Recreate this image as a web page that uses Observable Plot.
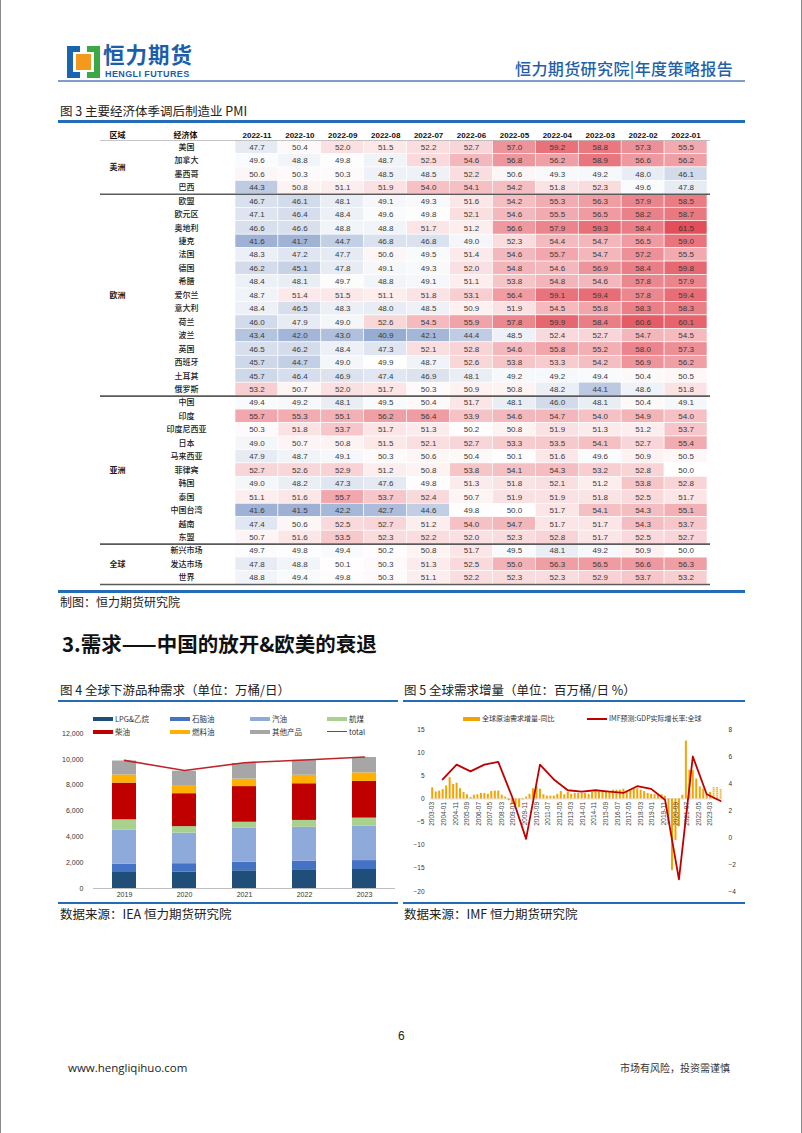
<!DOCTYPE html>
<html><head><meta charset="utf-8">
<script src="https://cdn.jsdelivr.net/npm/d3@7"></script>
<script src="https://cdn.jsdelivr.net/npm/@observablehq/plot@0.6"></script>
<style>
html,body{margin:0;padding:0;background:#fff;}
#page{position:relative;width:802px;height:1133px;overflow:hidden;font-family:"Noto Sans CJK SC","Liberation Sans",sans-serif;color:#111;}
.abs{position:absolute;line-height:1;white-space:nowrap;}
.hline{position:absolute;}
.plotbox{position:absolute;}
.plotbox svg{max-width:none !important;}
.leg{position:absolute;font-size:7.5px;line-height:1;white-space:nowrap;color:#333;}
.sw{position:absolute;}
</style></head>
<body><div id="page">
  <div class="hline" style="left:0;top:0;width:1px;height:1133px;background:#8a8a8a"></div>
  <div class="hline" style="left:801px;top:0;width:1px;height:1133px;background:#8a8a8a"></div>
  <!-- logo -->
  <svg class="abs" style="left:67px;top:45px" width="34" height="34" viewBox="0 0 34 34">
    <path d="M0 1 H13 V7 H6 V27 H13 V33 H0 Z" fill="#1c64b0"/>
    <path d="M33 1 H20 V7 H27 V27 H20 V33 H33 Z" fill="#3aa845"/>
    <rect x="9" y="9" width="15" height="16" fill="#f39a1e"/>
  </svg>
  <div class="abs" style="left:103px;top:43px;font-size:21.5px;font-weight:bold;color:#1b5ea9;letter-spacing:1px">恒力期货</div>
  <div class="abs" style="left:105px;top:69.5px;font-size:9px;font-weight:bold;color:#1b5ea9;font-family:'Liberation Sans',sans-serif;letter-spacing:0.4px">HENGLI FUTURES</div>
  <div class="abs" style="left:515px;top:60px;font-size:16px;color:#1f5fa8;font-weight:500;letter-spacing:0.4px">恒力期货研究院|年度策略报告</div>
  <div class="hline" style="left:58px;top:80px;width:687px;height:1.5px;background:#7f9dcb"></div>

  <div class="abs" style="left:60px;top:105px;font-size:12.5px;color:#222">图 3 主要经济体季调后制造业 PMI</div>
  <div class="hline" style="left:58px;top:120px;width:687px;height:2.5px;background:#236db5"></div>
  <div class="plotbox" id="table" style="left:0;top:120px;width:802px;"></div>
  <div class="hline" style="left:58px;top:590px;width:687px;height:2.5px;background:#236db5"></div>
  <div class="abs" style="left:60px;top:596px;font-size:12px;color:#222">制图：恒力期货研究院</div>

  <div class="abs" style="left:62px;top:633px;font-size:20.5px;font-weight:bold;color:#111">3.需求——中国的放开&amp;欧美的衰退</div>

  <div class="abs" style="left:60px;top:684px;font-size:12.5px;color:#222">图 4 全球下游品种需求（单位：万桶/日）</div>
  <div class="abs" style="left:404px;top:684px;font-size:12.5px;color:#222">图 5 全球需求增量（单位：百万桶/日 %）</div>
  <div class="hline" style="left:58px;top:700px;width:340px;height:2px;background:#236db5"></div>
  <div class="hline" style="left:403px;top:700px;width:342px;height:2px;background:#236db5"></div>

  <div class="plotbox" id="fig4" style="left:50px;top:705px;width:350px;"></div>
  <div id="leg4"></div>
  <div class="plotbox" id="fig5a" style="left:400px;top:705px;width:345px;"></div>
  <div class="plotbox" id="fig5b" style="left:400px;top:705px;width:345px;"></div>
  <div id="leg5"></div>

  <div class="hline" style="left:58px;top:902px;width:340px;height:2px;background:#236db5"></div>
  <div class="hline" style="left:403px;top:902px;width:342px;height:2px;background:#236db5"></div>
  <div class="abs" style="left:60px;top:908px;font-size:12.5px;color:#222">数据来源：IEA 恒力期货研究院</div>
  <div class="abs" style="left:404px;top:908px;font-size:12.5px;color:#222">数据来源：IMF 恒力期货研究院</div>

  <div class="abs" style="left:398px;top:1030px;font-size:12px;color:#222;font-family:'Liberation Sans',sans-serif">6</div>
  <div class="abs" style="left:68px;top:1062px;font-size:11.5px;color:#222;font-family:'Open Sans','Liberation Sans',sans-serif">www.hengliqihuo.com</div>
  <div class="abs" style="left:620px;top:1063px;font-size:10px;color:#333">市场有风险，投资需谨慎</div>
</div>
<script>
// ---------- Figure 3 data: manufacturing PMI ----------
const months = ["2022-11","2022-10","2022-09","2022-08","2022-07","2022-06","2022-05","2022-04","2022-03","2022-02","2022-01"];
const regionNames = ["美洲","欧洲","亚洲","全球"];

const americasNames = ["美国","加拿大","墨西哥","巴西"];
const americasPMI = [
  [47.7,50.4,52.0,51.5,52.2,52.7,57.0,59.2,58.8,57.3,55.5],
  [49.6,48.8,49.8,48.7,52.5,54.6,56.8,56.2,58.9,56.6,56.2],
  [50.6,50.3,50.3,48.5,48.5,52.2,50.6,49.3,49.2,48.0,46.1],
  [44.3,50.8,51.1,51.9,54.0,54.1,54.2,51.8,52.3,49.6,47.8]
];
const europeNames = ["欧盟","欧元区","奥地利","捷克","法国","德国","希腊","爱尔兰","意大利","荷兰","波兰","英国","西班牙","土耳其","俄罗斯"];
const europePMI = [
  [46.7,46.1,48.1,49.1,49.3,51.6,54.2,55.3,56.3,57.9,58.5],
  [47.1,46.4,48.4,49.6,49.8,52.1,54.6,55.5,56.5,58.2,58.7],
  [46.6,46.6,48.8,48.8,51.7,51.2,56.6,57.9,59.3,58.4,61.5],
  [41.6,41.7,44.7,46.8,46.8,49.0,52.3,54.4,54.7,56.5,59.0],
  [48.3,47.2,47.7,50.6,49.5,51.4,54.6,55.7,54.7,57.2,55.5],
  [46.2,45.1,47.8,49.1,49.3,52.0,54.8,54.6,56.9,58.4,59.8],
  [48.4,48.1,49.7,48.8,49.1,51.1,53.8,54.8,54.6,57.8,57.9],
  [48.7,51.4,51.5,51.1,51.8,53.1,56.4,59.1,59.4,57.8,59.4],
  [48.4,46.5,48.3,48.0,48.5,50.9,51.9,54.5,55.8,58.3,58.3],
  [46.0,47.9,49.0,52.6,54.5,55.9,57.8,59.9,58.4,60.6,60.1],
  [43.4,42.0,43.0,40.9,42.1,44.4,48.5,52.4,52.7,54.7,54.5],
  [46.5,46.2,48.4,47.3,52.1,52.8,54.6,55.8,55.2,58.0,57.3],
  [45.7,44.7,49.0,49.9,48.7,52.6,53.8,53.3,54.2,56.9,56.2],
  [45.7,46.4,46.9,47.4,46.9,48.1,49.2,49.2,49.4,50.4,50.5],
  [53.2,50.7,52.0,51.7,50.3,50.9,50.8,48.2,44.1,48.6,51.8]
];
const asiaNames = ["中国","印度","印度尼西亚","日本","马来西亚","菲律宾","韩国","泰国","中国台湾","越南","东盟"];
const asiaPMI = [
  [49.4,49.2,48.1,49.5,50.4,51.7,48.1,46.0,48.1,50.4,49.1],
  [55.7,55.3,55.1,56.2,56.4,53.9,54.6,54.7,54.0,54.9,54.0],
  [50.3,51.8,53.7,51.7,51.3,50.2,50.8,51.9,51.3,51.2,53.7],
  [49.0,50.7,50.8,51.5,52.1,52.7,53.3,53.5,54.1,52.7,55.4],
  [47.9,48.7,49.1,50.3,50.6,50.4,50.1,51.6,49.6,50.9,50.5],
  [52.7,52.6,52.9,51.2,50.8,53.8,54.1,54.3,53.2,52.8,50.0],
  [49.0,48.2,47.3,47.6,49.8,51.3,51.8,52.1,51.2,53.8,52.8],
  [51.1,51.6,55.7,53.7,52.4,50.7,51.9,51.9,51.8,52.5,51.7],
  [41.6,41.5,42.2,42.7,44.6,49.8,50.0,51.7,54.1,54.3,55.1],
  [47.4,50.6,52.5,52.7,51.2,54.0,54.7,51.7,51.7,54.3,53.7],
  [50.7,51.6,53.5,52.3,52.2,52.0,52.3,52.8,51.7,52.5,52.7]
];
const globalNames = ["新兴市场","发达市场","世界"];
const globalPMI = [
  [49.7,49.8,49.4,50.2,50.8,51.7,49.5,48.1,49.2,50.9,50.0],
  [47.8,48.8,50.1,50.3,51.3,52.5,55.0,56.3,56.5,56.6,56.3],
  [48.8,49.4,49.8,50.3,51.1,52.2,52.3,52.3,52.9,53.7,53.2]
];

// ---------- Figure 4 data: demand by product (万桶/日) ----------
const years4 = ["2019","2020","2021","2022","2023"];
const products = ["LPG&乙烷","石脑油","汽油","航煤","柴油","燃料油","其他产品"];
const productColors = ["#1f4e79","#4472c4","#8eaadb","#a9d18e","#c00000","#ffb000","#a6a6a6"];
const lpg      = [1240,1260,1370,1450,1470];
const naphtha  = [630,660,660,660,690];
const gasoline = [2660,2370,2630,2630,2660];
const jetFuel  = [790,500,470,530,630];
const diesel   = [2840,2550,2760,2840,2840];
const fuelOil  = [630,630,580,660,660];
const others   = [1080,1110,1210,1160,1190];
const totalDemand = [9920,9130,9740,9950,10180];

// ---------- Figure 5 data ----------
const demandYears = d3.range(2003, 2024);
const quarterMonths = [3,6,9,12];
const demandGrowth = [
  2.4,1.5,1.7,2.0,   2.8,4.6,3.1,3.4,   2.2,1.4,0.9,0.3,   0.8,0.9,1.2,1.2,
  1.0,1.6,1.7,1.7,   0.8,0.4,-0.4,-1.2, -1.5,-1.9,-0.2,0.4, 1.0,2.2,2.6,2.1,
  0.9,0.6,0.6,0.6,   1.0,1.6,0.9,1.4,   1.0,1.2,1.2,1.2,   1.2,1.0,1.4,1.5,
  1.5,1.5,1.5,1.4,   1.9,1.9,1.9,2.1,   1.7,1.9,2.2,2.2,   1.9,1.6,1.2,1.0,
  0.9,1.0,0.9,0.6,   -5.6,-15.5,-9.0,-6.0, 0.8,12.5,6.2,6.1, 4.3,2.6,2.1,1.0,
  1.4,2.6,2.5,2.1
];
const forecastCount = 3;
const gdpYears = d3.range(2003, 2024);
const gdpGrowth = [4.3,5.4,4.9,5.4,5.6,3.0,-0.1,5.4,4.3,3.5,3.4,3.5,3.4,3.3,3.8,3.6,2.8,-3.1,6.0,3.2,2.7];
const fig5TickStart = [2003, 3];   // labels every 10 months
const fig5TickCount = 25;
const leftTicks = [-20,-15,-10,-5,0,5,10,15];
const rightTicks = [-4,-2,0,2,4,6,8];

// ================= Figure 3 table =================
const groups = [
  {region: regionNames[0], names: americasNames, values: americasPMI},
  {region: regionNames[1], names: europeNames, values: europePMI},
  {region: regionNames[2], names: asiaNames, values: asiaPMI},
  {region: regionNames[3], names: globalNames, values: globalPMI}
];
const rows = [], groupInfo = [];
groups.forEach(g => {
  const start = rows.length;
  g.names.forEach((n, k) => rows.push({row: rows.length, name: n, values: g.values[k]}));
  groupInfo.push({region: g.region, start, end: rows.length - 1, mid: (start + rows.length - 1) / 2});
});
const nRows = rows.length;
const cells = rows.flatMap(r => r.values.map((v, j) => ({row: r.row, col: j, value: v})));
const allVals = cells.map(d => d.value);
const boundaries = groupInfo.slice(1).map(g => g.start - 0.5);

const table = Plot.plot({
  width: 802, height: 470,
  marginLeft: 235, marginRight: 95, marginTop: 20, marginBottom: 6,
  style: {background: "transparent", fontFamily: "Liberation Sans, Arial, sans-serif"},
  x: {type: "linear", domain: [-0.5, months.length - 0.5], axis: null},
  y: {type: "linear", domain: [-0.5, nRows - 0.5], reverse: true, axis: null},
  color: {type: "linear", domain: [d3.min(allVals), 50, d3.max(allVals)], range: ["#97acd1", "#ffffff", "#e24e59"], interpolate: "rgb"},
  marks: [
    Plot.rect(cells, {x1: d => d.col - 0.5, x2: d => d.col + 0.5, y1: d => d.row - 0.5, y2: d => d.row + 0.5,
      fill: "value", stroke: "#ffffff", strokeWidth: 0.6}),
    Plot.text(cells, {x: "col", y: "row", text: d => d.value.toFixed(1), fontSize: 8, fill: "#3a3a3a"}),
    Plot.text(months, {x: (d, i) => i, frameAnchor: "top", dy: -8, text: d => d, fontSize: 8, fontWeight: "bold", fill: "#111"}),
    Plot.text(["区域"], {frameAnchor: "top-left", dx: -118, dy: -8, textAnchor: "middle", fontSize: 8, fontWeight: "bold", fill: "#111", fontFamily: "Noto Sans CJK SC"}),
    Plot.text(["经济体"], {frameAnchor: "top-left", dx: -50, dy: -8, textAnchor: "middle", fontSize: 8, fontWeight: "bold", fill: "#111", fontFamily: "Noto Sans CJK SC"}),
    Plot.text(rows, {y: "row", frameAnchor: "left", dx: -49, textAnchor: "middle", text: "name", fontSize: 8, fontWeight: 500, fill: "#222", fontFamily: "Noto Sans CJK SC"}),
    Plot.text(groupInfo, {y: "mid", frameAnchor: "left", dx: -118, textAnchor: "middle", text: "region", fontSize: 8, fontWeight: "bold", fill: "#222", fontFamily: "Noto Sans CJK SC"}),
    Plot.ruleY([-0.5], {stroke: "#b5b5b5", strokeWidth: 0.8, insetLeft: -135, insetRight: -3}),
    Plot.ruleY(boundaries, {stroke: "#5a5a5a", strokeWidth: 1.6, insetLeft: -135, insetRight: -3}),
    Plot.ruleY([nRows - 0.5], {stroke: "#5a5a5a", strokeWidth: 1.6, insetLeft: -135, insetRight: -3})
  ]
});
document.getElementById("table").appendChild(table);

// ================= Figure 4 =================
const series4 = [lpg, naphtha, gasoline, jetFuel, diesel, fuelOil, others];
const stack4 = years4.flatMap((y, i) => products.map((p, k) => ({year: y, product: p, value: series4[k][i]})));
const total4 = years4.map((y, i) => ({year: y, value: totalDemand[i]}));
const fig4 = Plot.plot({
  width: 350, height: 195,
  marginLeft: 43, marginRight: 5, marginTop: 28, marginBottom: 12,
  style: {background: "transparent", fontSize: "7px", fontFamily: "Liberation Sans, Arial, sans-serif", color: "#333"},
  x: {domain: years4, paddingInner: 0.6, paddingOuter: 0.3, tickSize: 0, tickPadding: 4, label: null},
  y: {domain: [0, 12000], ticks: d3.range(0, 12001, 2000), tickFormat: d3.format(","), tickSize: 0, tickPadding: 10, label: null},
  color: {domain: products, range: productColors},
  marks: [
    Plot.barY(stack4, {x: "year", y: "value", fill: "product"}),
    Plot.ruleY([0], {stroke: "#bfbfbf", strokeWidth: 1}),
    Plot.line(total4, {x: "year", y: "value", stroke: "#c0242b", strokeWidth: 1.6})
  ]
});
document.getElementById("fig4").appendChild(fig4);

// legend fig4
const leg4 = document.getElementById("leg4");
const legItems4 = products.map((p, k) => ({label: p, color: productColors[k], kind: "bar"}))
  .concat([{label: "total", color: "#c0242b", kind: "line"}]);
const legCols4 = [93, 170, 250, 327];
legItems4.forEach((it, k) => {
  const col = k % 4, row = Math.floor(k / 4);
  const x = legCols4[col], y = 715 + row * 13;
  const sw = document.createElement("div");
  sw.className = "sw";
  sw.style.cssText = `left:${x}px;top:${y + (it.kind === "line" ? 2.5 : 1.5)}px;width:20px;height:${it.kind === "line" ? 1.5 : 4}px;background:${it.color}`;
  leg4.appendChild(sw);
  const t = document.createElement("div");
  t.className = "leg";
  t.style.cssText = `left:${x + 22}px;top:${y}px`;
  t.textContent = it.label;
  leg4.appendChild(t);
});

// ================= Figure 5 =================
const demand = demandYears.flatMap(y => quarterMonths.map(m => new Date(Date.UTC(y, m - 1, 1))))
  .map((d, i) => ({date: d, v: demandGrowth[i], forecast: i >= demandGrowth.length - forecastCount}));
const gdp = gdpYears.map((y, i) => ({date: new Date(Date.UTC(y, 11, 1)), v: gdpGrowth[i]}));
const tickDates = d3.range(fig5TickCount).map(k => new Date(Date.UTC(fig5TickStart[0], fig5TickStart[1] - 1 + 10 * k, 1)));
const xDomain5 = [new Date(Date.UTC(2003, 0, 15)), new Date(Date.UTC(2024, 0, 20))];
const fmt5 = d3.utcFormat("%Y-%m");

const fig5a = Plot.plot({
  width: 345, height: 195,
  marginLeft: 30, marginRight: 23, marginTop: 24, marginBottom: 9,
  style: {background: "transparent", fontSize: "6.5px", fontFamily: "Liberation Sans, Arial, sans-serif", color: "#333"},
  x: {type: "utc", domain: xDomain5, axis: null},
  y: {domain: [-20, 15], ticks: leftTicks, tickSize: 0, tickPadding: 6, label: null},
  marks: [
    Plot.ruleY([0], {stroke: "#d0d0d0", strokeWidth: 0.8}),
    Plot.ruleX(demand.filter(d => !d.forecast), {x: "date", y1: 0, y2: "v", stroke: "#f5a300", strokeWidth: 2}),
    Plot.ruleX(demand.filter(d => d.forecast), {x: "date", y1: 0, y2: "v", stroke: "#f5a300", strokeWidth: 2, strokeDasharray: "1.2,0.8"}),
    Plot.text(tickDates, {x: d => d, y: 0, text: d => fmt5(d), rotate: -90, textAnchor: "end", dy: 3, fontSize: 6.5, fill: "#444"})
  ]
});
document.getElementById("fig5a").appendChild(fig5a);

const fig5b = Plot.plot({
  width: 345, height: 195,
  marginLeft: 30, marginRight: 23, marginTop: 24, marginBottom: 9,
  style: {background: "transparent", fontSize: "6.5px", fontFamily: "Liberation Sans, Arial, sans-serif", color: "#333"},
  x: {type: "utc", domain: xDomain5, axis: null},
  y: {domain: [-4, 8], axis: "right", ticks: rightTicks, tickSize: 0, tickPadding: 6, label: null},
  marks: [
    Plot.line(gdp, {x: "date", y: "v", stroke: "#c00000", strokeWidth: 1.8})
  ]
});
document.getElementById("fig5b").appendChild(fig5b);

// legend fig5
const leg5 = document.getElementById("leg5");
[{label: "全球原油需求增量-同比", color: "#f5a300", kind: "bar", x: 463},
 {label: "IMF预测:GDP实际增长率:全球", color: "#c00000", kind: "line", x: 587}].forEach(it => {
  const sw = document.createElement("div");
  sw.className = "sw";
  sw.style.cssText = `left:${it.x}px;top:${it.kind === "line" ? 718 : 716.5}px;width:${it.kind === "line" ? 20 : 17}px;height:${it.kind === "line" ? 1.5 : 4.5}px;background:${it.color}`;
  leg5.appendChild(sw);
  const t = document.createElement("div");
  t.className = "leg";
  t.style.cssText = `left:${it.x + (it.kind === "line" ? 22 : 19)}px;top:714.5px;font-size:7px`;
  t.textContent = it.label;
  leg5.appendChild(t);
});
</script>
</body></html>
